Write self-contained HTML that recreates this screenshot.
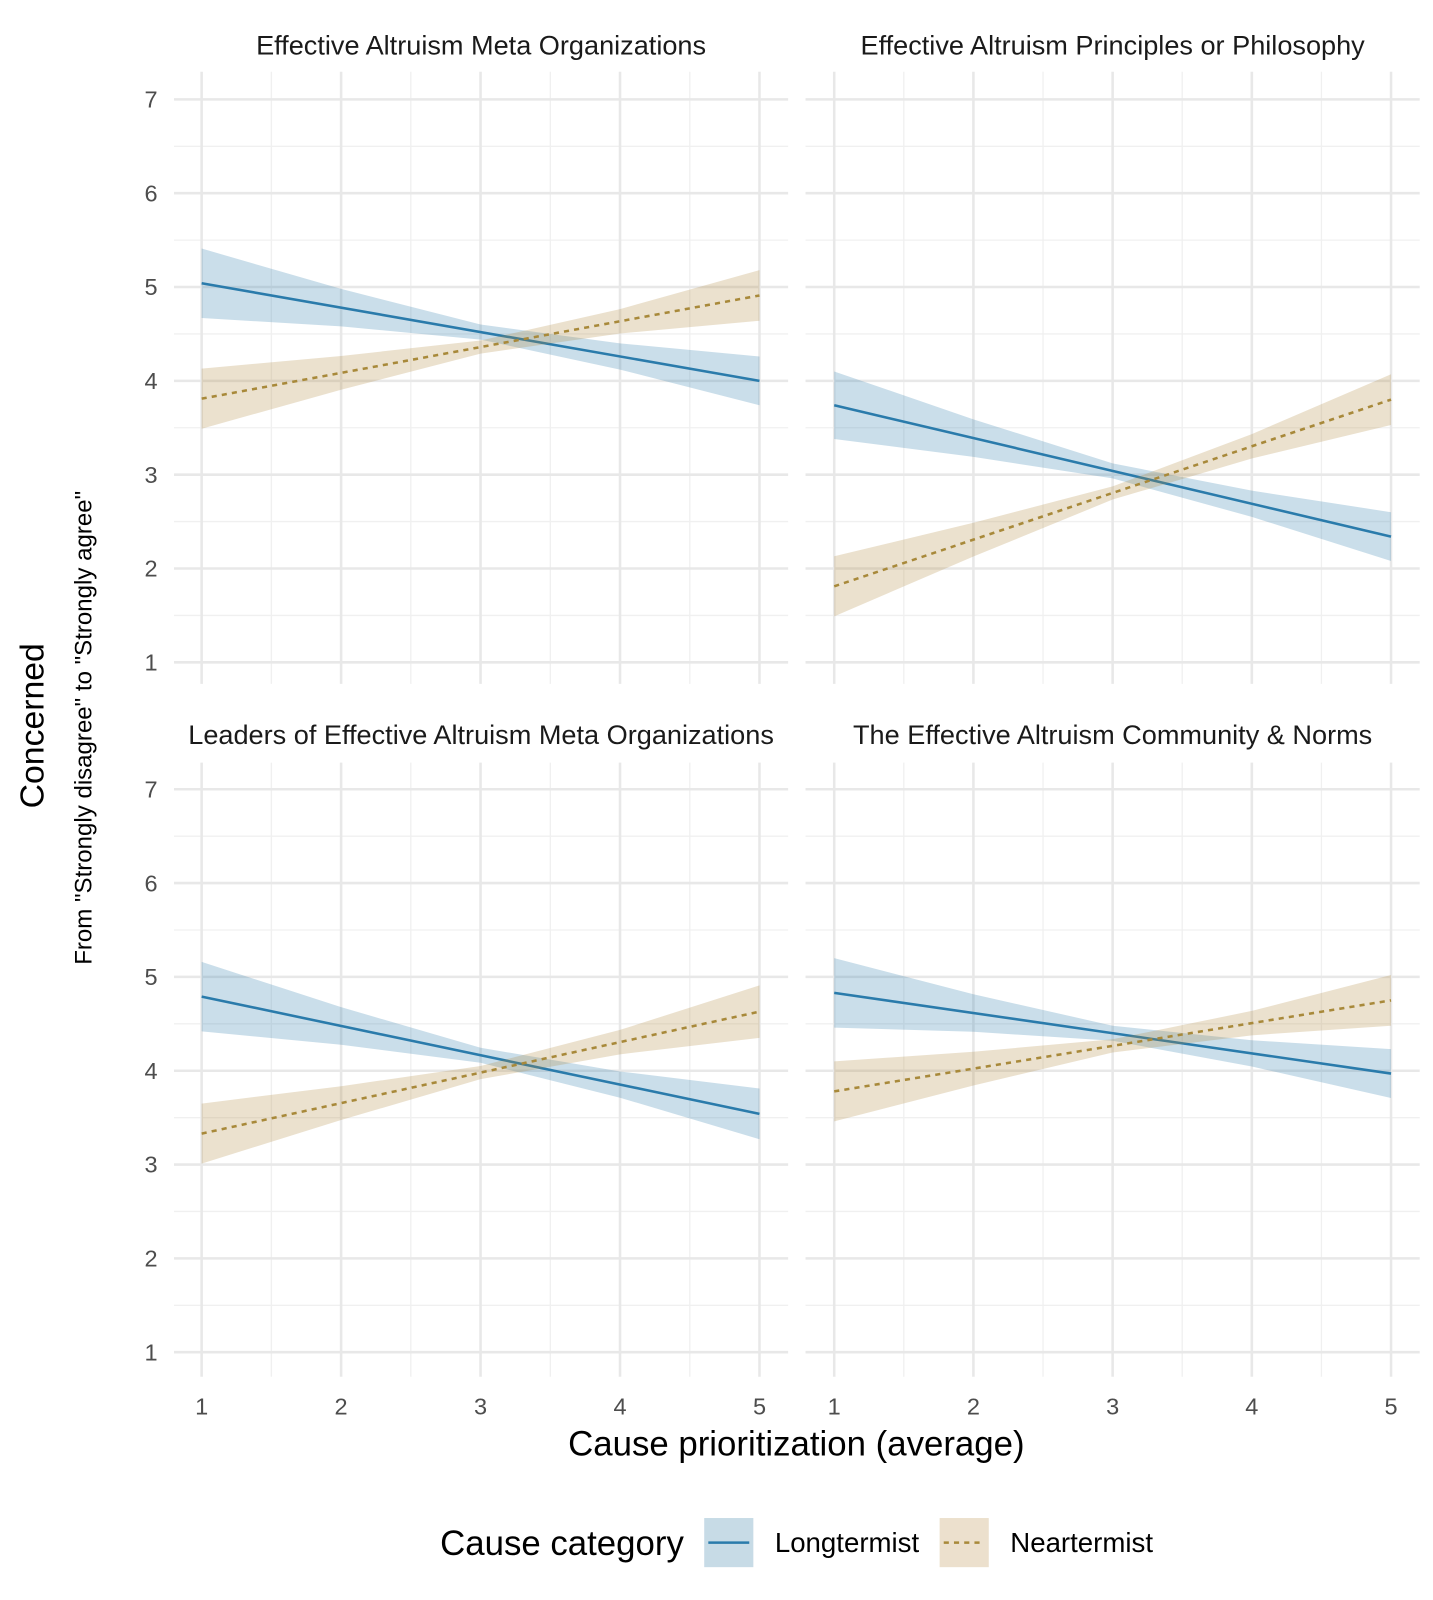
<!DOCTYPE html>
<html><head><meta charset="utf-8"><style>
html,body{margin:0;padding:0;background:#fff;}
svg{display:block;font-family:"Liberation Sans",Arial,sans-serif;}
</style></head><body>
<svg id="chart" width="1433" height="1600" viewBox="0 0 1400 1563" xmlns="http://www.w3.org/2000/svg">
<text x="32" y="709" font-size="33" fill="#000" text-anchor="middle" dominant-baseline="central" transform="rotate(-90 32 709)">Concerned</text>
<text x="82" y="711" font-size="23.5" fill="#000" text-anchor="middle" dominant-baseline="central" transform="rotate(-90 82 711)">From "Strongly disagree" to "Strongly agree"</text>
<text x="778" y="1422" font-size="34" fill="#000" text-anchor="middle">Cause prioritization (average)</text>
<g>
<text x="430" y="1519" font-size="34" fill="#000">Cause category</text>
<g>
<rect x="688" y="1483" width="48" height="48" fill="#c7dbe6"/>
<line x1="692" y1="1507" x2="732" y2="1507" stroke="#2a7bab" stroke-width="2.5"/>
<text x="757" y="1516" font-size="27" fill="#000">Longtermist</text></g>
<g>
<rect x="918" y="1483" width="48" height="48" fill="#ece0cd"/>
<line x1="922" y1="1507" x2="962" y2="1507" stroke="#a8893a" stroke-width="2.5" stroke-dasharray="5,5"/>
<text x="987" y="1516" font-size="27" fill="#000">Neartermist</text></g>
</g>
<g id="panels"></g>
</svg>
<script>
const panelTitles = ["Effective Altruism Meta Organizations","Effective Altruism Principles or Philosophy","Leaders of Effective Altruism Meta Organizations","The Effective Altruism Community & Norms"];
const xTicks = [1,2,3,4,5];
const yTicks = [1,2,3,4,5,6,7];
const ciX = [1,2,3,4,5];
// fitted line endpoints at x=1 and x=5
const longStart = [5.04,3.74,4.79,4.83];
const longEnd = [4.00,2.34,3.54,3.97];
const nearStart = [3.81,1.81,3.33,3.78];
const nearEnd = [4.91,3.80,4.63,4.75];
// CI half-widths at ciX
const longHW = [[0.37,0.2,0.08,0.14,0.26],[0.36,0.2,0.08,0.14,0.26],[0.37,0.2,0.08,0.14,0.27],[0.37,0.2,0.08,0.14,0.26]];
const nearHW = [[0.32,0.18,0.07,0.13,0.27],[0.32,0.18,0.07,0.13,0.27],[0.32,0.18,0.07,0.13,0.28],[0.32,0.18,0.07,0.13,0.27]];

const NS="http://www.w3.org/2000/svg";
const root=document.getElementById('panels');
const layout=[{x0:197,x1:742,y7:97,y1:647,l:170,r:770,t:70,b:668,ty:53},
{x0:815,x1:1359,y7:97,y1:647,l:787,r:1387,t:70,b:668,ty:53},
{x0:197,x1:742,y7:771,y1:1321,l:170,r:770,t:745,b:1345,ty:727},
{x0:815,x1:1359,y7:771,y1:1321,l:787,r:1387,t:745,b:1345,ty:727}];
function mk(tag,attrs,parent){const e=document.createElementNS(NS,tag);for(const k in attrs)e.setAttribute(k,attrs[k]);parent.appendChild(e);return e;}
layout.forEach((L,i)=>{
  const sx=v=>L.x0+(v-1)*(L.x1-L.x0)/4;
  const sy=v=>L.y1-(v-1)*(L.y1-L.y7)/6;
  const g=mk('g',{},root);
  
  
  for(let v=1.5;v<5;v+=1) mk('line',{x1:sx(v),x2:sx(v),y1:L.t,y2:L.b,stroke:'#f0f0f0','stroke-width':1.3},g);
  for(let v=1.5;v<7;v+=1) mk('line',{x1:L.l,x2:L.r,y1:sy(v),y2:sy(v),stroke:'#f0f0f0','stroke-width':1.3},g);
  xTicks.forEach(v=>mk('line',{x1:sx(v),x2:sx(v),y1:L.t,y2:L.b,stroke:'#e8e8e8','stroke-width':2.5},g));
  yTicks.forEach(v=>mk('line',{x1:L.l,x2:L.r,y1:sy(v),y2:sy(v),stroke:'#e8e8e8','stroke-width':2.5},g));
  const t=mk('text',{x:(L.l+L.r)/2,y:L.ty,'font-size':26.5,'text-anchor':'middle',fill:'#1a1a1a'},g);
  t.textContent=panelTitles[i];
  
  
  if(i%2===0) yTicks.forEach(v=>{const e=mk('text',{x:154,y:sy(v)+8,'font-size':23,'text-anchor':'end',fill:'#4d4d4d'},g);e.textContent=v;
    
    });
  if(i>=2) xTicks.forEach(v=>{const e=mk('text',{x:sx(v),y:1382,'font-size':23,'text-anchor':'middle',fill:'#4d4d4d'},g);e.textContent=v;
    
    });
  const series=[[longStart[i],longEnd[i],longHW[i],'#2a7bab','rgba(42,123,171,0.25)',null,'longtermist'],
                [nearStart[i],nearEnd[i],nearHW[i],'#a8893a','rgba(176,137,58,0.25)','5,5','neartermist']];
  series.forEach(s=>{
    const f=x=>s[0]+(s[1]-s[0])*(x-1)/4;
    let up=ciX.map((x,k)=>sx(x)+','+sy(f(x)+s[2][k]));
    let lo=ciX.map((x,k)=>sx(x)+','+sy(f(x)-s[2][k])).reverse();
    const rb=mk('polygon',{points:up.concat(lo).join(' '),fill:s[4]},g);
    
    
    const ln=mk('line',{x1:sx(1),y1:sy(s[0]),x2:sx(5),y2:sy(s[1]),stroke:s[3],'stroke-width':2.5},g);
    if(s[5]) ln.setAttribute('stroke-dasharray',s[5]);
    
    
  });
});
</script>
</body></html>
